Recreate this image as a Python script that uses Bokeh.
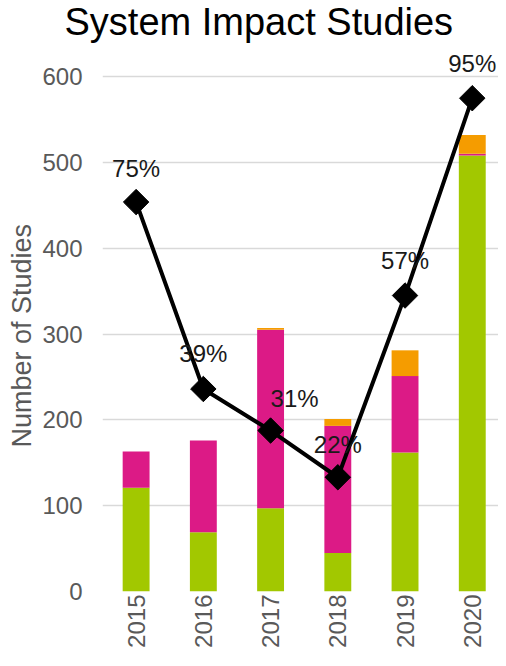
import math
from bokeh.plotting import figure
from bokeh.models import ColumnDataSource, Range1d, FixedTicker, Title
from bokeh.core.properties import value
from bokeh.embed import file_html
from bokeh.resources import INLINE

# ---- data ----
years = [2015, 2016, 2017, 2018, 2019, 2020]
green = [121, 69, 97, 45, 162, 508]
magenta = [42, 107, 208, 148, 89, 2]
orange = [0, 0, 2, 8, 30, 22]
pct = [75, 39, 31, 22, 57, 95]
pct_labels = [f"{v}%" for v in pct]
y_ticks = [0, 100, 200, 300, 400, 500, 600]
title_text = "System Impact Studies"
y_title = "Number of Studies"

# ---- style ----
FONT = "Liberation Sans"
GRAY = "#595959"
label_dx = [0, 0, 24, 0, 0, 0]
label_dy = [-34, -35, -32, -33, -35, -35]
Y_END = 642.0
PCT_SCALE = 6.05

src = ColumnDataSource(dict(year=years, green=green, magenta=magenta, orange=orange,
                            pct=pct, lab=pct_labels, dx=label_dx, dy=label_dy))

p = figure(width=498, height=650, output_backend="svg", toolbar_location=None,
           x_range=Range1d(2014.5, 2020.39), y_range=Range1d(0, Y_END),
           min_border_left=102, min_border_right=0, min_border_top=0, min_border_bottom=40)
p.extra_y_ranges = {"pct": Range1d(0, Y_END / PCT_SCALE)}
p.outline_line_color = None
p.background_fill_color = "white"
p.border_fill_color = "white"

# title
p.title.text = title_text
p.title.align = "left"
p.title.offset = -38
p.title.vertical_align = "bottom"
p.title.standoff = -4
p.title.text_font = FONT
p.title.text_font_size = "38px"
p.title.text_font_style = "normal"
p.title.text_color = "black"

# y axis title (placed as a side title so it can sit level with the 0-600 span)
p.add_layout(Title(text=y_title, align="left", offset=144, standoff=6,
                   text_font=FONT, text_font_size="27px", text_font_style="normal",
                   text_color=GRAY), "left")

p.vbar_stack(["green", "magenta", "orange"], x="year", width=0.4,
             color=["#a2c800", "#dc1a86", "#f59c00"], line_color=None, source=src)

p.line("year", "pct", y_range_name="pct", line_width=4, color="black", source=src)
p.scatter("year", "pct", y_range_name="pct", marker="square", angle=math.pi / 4,
          size=18, color="black", source=src)
p.text(x="year", y="pct", text="lab", y_range_name="pct", x_offset="dx", y_offset="dy",
       text_align="center", text_baseline="middle", text_font=value(FONT),
       text_font_size="24px", text_color="#1a1a1a", source=src)

# axes
p.xaxis.ticker = FixedTicker(ticks=years)
p.xaxis.major_label_orientation = math.pi / 2
p.xaxis.major_label_text_font = FONT
p.xaxis.major_label_text_font_size = "24px"
p.xaxis.major_label_text_color = GRAY
p.xaxis.major_label_standoff = 3
p.xaxis.axis_line_color = None
p.xaxis.major_tick_line_color = None
p.xaxis.major_tick_out = 0
p.xaxis.major_tick_in = 0
p.xaxis.minor_tick_line_color = None

p.yaxis.ticker = FixedTicker(ticks=y_ticks)
p.yaxis.major_label_text_font = FONT
p.yaxis.major_label_text_font_size = "24px"
p.yaxis.major_label_text_color = GRAY
p.yaxis.major_label_standoff = 20
p.yaxis.axis_line_color = None
p.yaxis.major_tick_line_color = None
p.yaxis.major_tick_out = 0
p.yaxis.major_tick_in = 0
p.yaxis.minor_tick_line_color = None

p.xgrid.visible = False
p.ygrid.grid_line_color = "#d9d9d9"
p.ygrid.grid_line_width = 1.5

open("out.html", "w").write(file_html(p, INLINE))
